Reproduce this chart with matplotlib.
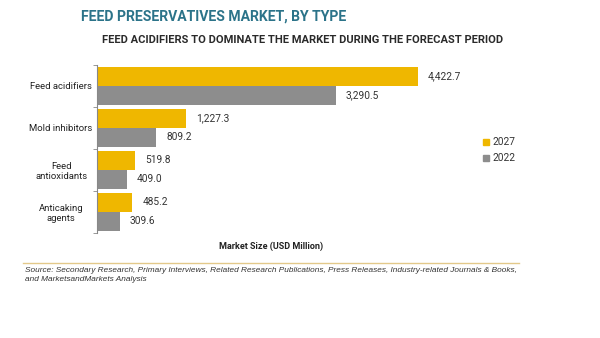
import numpy as np
import matplotlib
matplotlib.use('Agg')
import matplotlib.pyplot as plt
from matplotlib.patches import Patch

# data
categories = ['Feed acidifiers', 'Mold inhibitors', 'Feed\nantioxidants', 'Anticaking\nagents']
values_2027 = [4422.7, 1227.3, 519.8, 485.2]
values_2022 = [3290.5, 809.2, 409.0, 309.6]
years = ['2027', '2022']

gold = '#efb700'
grey = '#8d8d8d'

plt.rcParams['font.family'] = ['Roboto', 'DejaVu Sans']

fig = plt.figure(figsize=(6, 3.38), dpi=100)
ax = fig.add_axes([0.162, 0.311, 0.725, 0.497])

y = np.arange(len(categories))
h = 0.45
ax.barh(y - h/2, values_2027, height=h, color=gold)
ax.barh(y + h/2, values_2022, height=h, color=grey)

for i in range(len(categories)):
    ax.text(values_2027[i] + 140, y[i] - h/2, f'{values_2027[i]:,.1f}',
            va='center', ha='left', fontsize=7.3, color='#333333')
    ax.text(values_2022[i] + 140, y[i] + h/2, f'{values_2022[i]:,.1f}',
            va='center', ha='left', fontsize=7.3, color='#333333')

ax.set_xlim(0, 6000)
ax.set_ylim(len(categories) - 0.5, -0.5)
ax.set_yticks(y)
ax.set_yticklabels(categories, fontsize=6.8, color='#222222', ha='center')
ax.tick_params(axis='y', which='major', length=0, pad=26)
ax.set_yticks(np.arange(len(categories) + 1) - 0.5, minor=True)
ax.tick_params(axis='y', which='minor', length=3, color='#888888')
ax.set_xticks([])
for s in ['top', 'right', 'bottom']:
    ax.spines[s].set_visible(False)
ax.spines['left'].set_color('#888888')
ax.spines['left'].set_linewidth(0.8)

ax.set_xlabel('Market Size (USD Million)', fontsize=6.5, fontweight='bold',
              color='#222222')
ax.xaxis.set_label_coords(0.4, -0.05)

handles = [Patch(color=gold), Patch(color=grey)]
fig.legend(handles, years, loc='center left', bbox_to_anchor=(0.79, 0.555),
           frameon=False, fontsize=7.3, handlelength=0.6, handleheight=0.6,
           handletextpad=0.3, labelspacing=0.6, labelcolor='#333333')

fig.text(0.135, 0.95, 'FEED PRESERVATIVES MARKET, BY TYPE', fontsize=10.1,
         fontweight='bold', color='#2b7389', va='center', ha='left')
fig.text(0.17, 0.882, 'FEED ACIDIFIERS TO DOMINATE THE MARKET DURING THE FORECAST PERIOD',
         fontsize=8, fontweight='bold', color='#2a2a2a', va='center', ha='left',
         family=['Liberation Sans Narrow', 'Roboto', 'DejaVu Sans'])

fig.add_artist(plt.Line2D([0.038, 0.865], [0.222, 0.222], color='#e3c98a', lw=1))
fig.text(0.042, 0.186,
         'Source: Secondary Research, Primary Interviews, Related Research Publications, '
         'Press Releases, Industry-related Journals & Books,\nand MarketsandMarkets Analysis',
         fontsize=5.95, style='italic', color='#333333', va='center', ha='left',
         family=['Liberation Sans', 'DejaVu Sans'], linespacing=1.3)

fig.savefig('out.png', dpi=100)
